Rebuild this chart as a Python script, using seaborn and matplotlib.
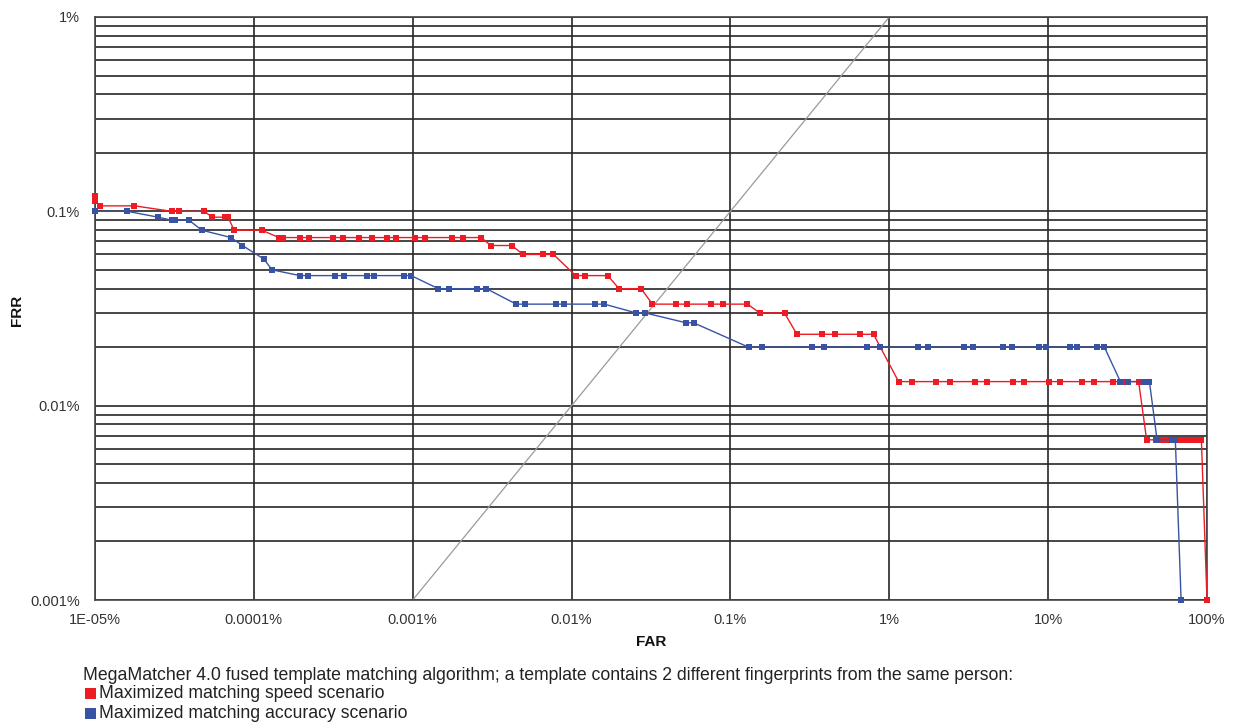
import matplotlib
matplotlib.use("Agg")
import matplotlib.pyplot as plt
from matplotlib.patches import Rectangle
from matplotlib.ticker import FixedLocator, NullFormatter, LogLocator
import numpy as np
import pandas as pd
import seaborn as sns

# ---------------- data (percent) ----------------
speed_far = [1e-5, 1e-5, 1.075e-5, 1.77e-5, 3.04e-5, 3.38e-5, 4.86e-5, 5.48e-5, 6.59e-5, 6.88e-5, 7.51e-5, 1.12e-4,
             1.44e-4, 1.53e-4, 1.95e-4, 2.23e-4, 3.13e-4, 3.66e-4, 4.62e-4, 5.53e-4, 6.87e-4, 7.83e-4, 1.035e-3, 1.20e-3,
             1.76e-3, 2.06e-3, 2.70e-3,
             3.10e-3, 4.21e-3,
             4.94e-3, 6.65e-3, 7.69e-3,
             1.06e-2, 1.22e-2, 1.69e-2,
             1.99e-2, 2.74e-2,
             3.23e-2, 4.54e-2, 5.32e-2, 7.52e-2, 8.92e-2, 0.128,
             0.153, 0.219,
             0.262, 0.377, 0.455, 0.657, 0.796,
             1.144, 1.39, 1.98, 2.42, 3.45, 4.14, 6.04, 7.08, 10.1, 11.9, 16.4, 19.3, 25.7, 29.5, 37.1,
             41.7, 48.0, 52.4, 57.1, 62.3, 68.0, 74.2, 79.8, 85.8, 92.2,
             100]
speed_frr = [0.12, 0.1133, 0.1067, 0.1067, 0.1, 0.1, 0.1, 0.0933, 0.0933, 0.0933, 0.08, 0.08,
             0.0733, 0.0733, 0.0733, 0.0733, 0.0733, 0.0733, 0.0733, 0.0733, 0.0733, 0.0733, 0.0733, 0.0733,
             0.0733, 0.0733, 0.0733,
             0.0667, 0.0667,
             0.06, 0.06, 0.06,
             0.0467, 0.0467, 0.0467,
             0.04, 0.04,
             0.0333, 0.0333, 0.0333, 0.0333, 0.0333, 0.0333,
             0.03, 0.03,
             0.0233, 0.0233, 0.0233, 0.0233, 0.0233,
             0.0133, 0.0133, 0.0133, 0.0133, 0.0133, 0.0133, 0.0133, 0.0133, 0.0133, 0.0133, 0.0133, 0.0133,
             0.0133, 0.0133, 0.0133,
             0.00667, 0.00667, 0.00667, 0.00667, 0.00667, 0.00667, 0.00667, 0.00667, 0.00667, 0.00667,
             0.001]

acc_far = [1e-5, 1.6e-5, 2.5e-5, 3.04e-5, 3.2e-5, 3.91e-5, 4.70e-5, 7.18e-5, 8.47e-5, 1.16e-4, 1.30e-4,
           1.95e-4, 2.19e-4, 3.26e-4, 3.70e-4, 5.14e-4, 5.71e-4, 8.79e-4, 9.77e-4,
           1.45e-3, 1.68e-3, 2.53e-3, 2.91e-3,
           4.48e-3, 5.10e-3, 8.00e-3, 9.02e-3, 1.41e-2, 1.61e-2,
           2.55e-2, 2.91e-2,
           5.25e-2, 5.86e-2,
           0.130, 0.159, 0.326, 0.390, 0.727, 0.869, 1.52, 1.75, 2.94, 3.35, 5.20, 5.93, 8.76, 9.74,
           13.8, 15.3, 20.4, 22.6,
           28.5, 31.8, 39.9, 43.4,
           48.5, 60.5, 63.2,
           68.7]
acc_frr = [0.1, 0.1, 0.0933, 0.09, 0.09, 0.09, 0.08, 0.0733, 0.0667, 0.0567, 0.05,
           0.0467, 0.0467, 0.0467, 0.0467, 0.0467, 0.0467, 0.0467, 0.0467,
           0.04, 0.04, 0.04, 0.04,
           0.0333, 0.0333, 0.0333, 0.0333, 0.0333, 0.0333,
           0.03, 0.03,
           0.0267, 0.0267,
           0.02, 0.02, 0.02, 0.02, 0.02, 0.02, 0.02, 0.02, 0.02, 0.02, 0.02, 0.02, 0.02, 0.02,
           0.02, 0.02, 0.02, 0.02,
           0.0133, 0.0133, 0.0133, 0.0133,
           0.00667, 0.00667, 0.00667,
           0.001]

diag_vals = [0.001, 1]

x_ticks = [1e-5, 1e-4, 1e-3, 1e-2, 1e-1, 1, 10, 100]
x_labels = ["1E-05%", "0.0001%", "0.001%", "0.01%", "0.1%", "1%", "10%", "100%"]
y_ticks = [0.001, 0.01, 0.1, 1]
y_labels = ["0.001%", "0.01%", "0.1%", "1%"]

series_names = ["Maximized matching speed scenario", "Maximized matching accuracy scenario"]
caption = ("MegaMatcher 4.0 fused template matching algorithm; a template contains 2 different "
           "fingerprints from the same person:")
colors = {series_names[0]: "#ED1C24", series_names[1]: "#3953A4"}

# ---------------- style ----------------
sns.set_theme(style="white")
plt.rcParams["font.family"] = ["Liberation Sans", "DejaVu Sans"]

W, H = 1237, 725
fig = plt.figure(figsize=(W / 100, H / 100), dpi=100)
fig.patch.set_facecolor("white")
L, R, T, B = 95, 1207, 17, 600
ax = fig.add_axes([L / W, 1 - B / H, (R - L) / W, (B - T) / H])
ax.set_facecolor("white")

ax.set_xscale("log")
ax.set_yscale("log")
ax.set_xlim(1e-5, 100)
ax.set_ylim(0.001, 1)

grid_color = "#262626"
ax.xaxis.set_major_locator(FixedLocator(x_ticks))
ax.xaxis.set_minor_locator(FixedLocator([]))
ax.set_xticklabels(x_labels)
ax.yaxis.set_major_locator(FixedLocator(y_ticks))
ax.yaxis.set_minor_locator(LogLocator(base=10, subs=np.arange(2, 10)))
ax.yaxis.set_minor_formatter(NullFormatter())
ax.set_yticklabels(y_labels)
ax.grid(True, which="major", axis="both", color=grid_color, lw=1.2)
ax.grid(True, which="minor", axis="y", color=grid_color, lw=1.2)
ax.set_axisbelow(True)
ax.tick_params(which="both", length=0)
ax.tick_params(axis="y", pad=11, labelsize=10.5, labelcolor="#333333")
ax.tick_params(axis="x", pad=9, labelsize=10.5, labelcolor="#333333")
for s in ax.spines.values():
    s.set_color("#444444")
    s.set_linewidth(1.2)

# diagonal FAR = FRR
ax.plot(diag_vals, diag_vals, color="#9a9a9a", lw=0.9, zorder=2)

df = pd.concat([
    pd.DataFrame({"FAR": speed_far, "FRR": speed_frr, "series": series_names[0]}),
    pd.DataFrame({"FAR": acc_far, "FRR": acc_frr, "series": series_names[1]}),
], ignore_index=True)

sns.lineplot(data=df, x="FAR", y="FRR", hue="series", palette=colors, hue_order=series_names,
             sort=False, estimator=None, marker="s", markersize=5, markeredgewidth=0,
             lw=1.0, legend=False, ax=ax, zorder=3)
for ln in ax.lines:
    ln.set_clip_on(False)

ax.set_xlabel("")
ax.set_ylabel("")
fig.text(651 / W, 1 - 642 / H, "FAR", fontsize=11, fontweight="bold", color="#111111",
         ha="center", va="center")
fig.text(17 / W, 1 - 310 / H, "FRR", fontsize=11, fontweight="bold", color="#111111",
         ha="center", va="center", rotation=90)

# caption / legend block
fig.text(83 / W, 1 - 675 / H, caption, fontsize=12.7, color="#222222", va="center", ha="left")
for i, name in enumerate(series_names):
    yc = 694 + 20 * i
    fig.patches.append(Rectangle((85 / W, 1 - (yc + 5) / H), 11 / W, 11 / H,
                                 transform=fig.transFigure, facecolor=colors[name], edgecolor="none"))
    fig.text(99 / W, 1 - yc / H, name, fontsize=12.7, color="#222222", va="center", ha="left")

fig.savefig("out.png", dpi=100, facecolor="white")
